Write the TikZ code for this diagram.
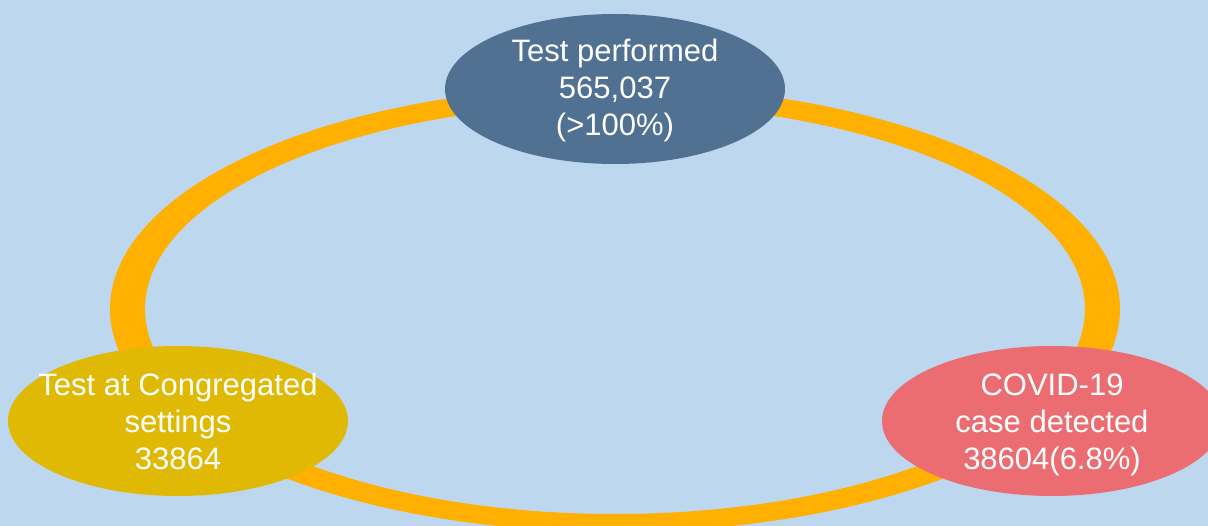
\documentclass[tikz,border=0pt]{standalone}
\usepackage{fontspec}
\setmainfont{Liberation Sans}
\usetikzlibrary{shapes.geometric}
\definecolor{bgblue}{RGB}{189,215,238}
\definecolor{ringorange}{RGB}{255,176,0}
\definecolor{slate}{RGB}{80,113,145}
\definecolor{mustard}{RGB}{224,185,5}
\definecolor{salmon}{RGB}{235,109,113}
\tikzset{
  stat/.style={ellipse, minimum width=340pt, minimum height=150pt, inner sep=0pt},
  stattext/.style={text=white, align=center, inner sep=0pt, font=\fontsize{31}{37}\selectfont},
}
\begin{document}
\begin{tikzpicture}[x=1pt,y=-1pt]
  \fill[bgblue] (0,0) rectangle (1208,526);
  \useasboundingbox (0,0) rectangle (1208,526);
  \fill[ringorange, even odd rule] (615,309) ellipse [x radius=505, y radius=223]
                                   (615,309) ellipse [x radius=470, y radius=205];
  \node[stat, fill=slate] (top) at (615,89) {};
  \node[stattext] (toptext) at ([yshift=-1pt]top.center) {Test performed\\565,037\\(>100\%)};
  \node[stat, fill=mustard] (left) at (178,421) {};
  \node[stattext] (lefttext) at (left.center) {Test at Congregated\\settings\\33864};
  \node[stat, fill=salmon] (right) at (1052,421) {};
  \node[stattext] (righttext) at ([yshift=-4pt]right.center) {COVID-19\\case detected\\38604(6.8\%)};
\end{tikzpicture}
\end{document}
